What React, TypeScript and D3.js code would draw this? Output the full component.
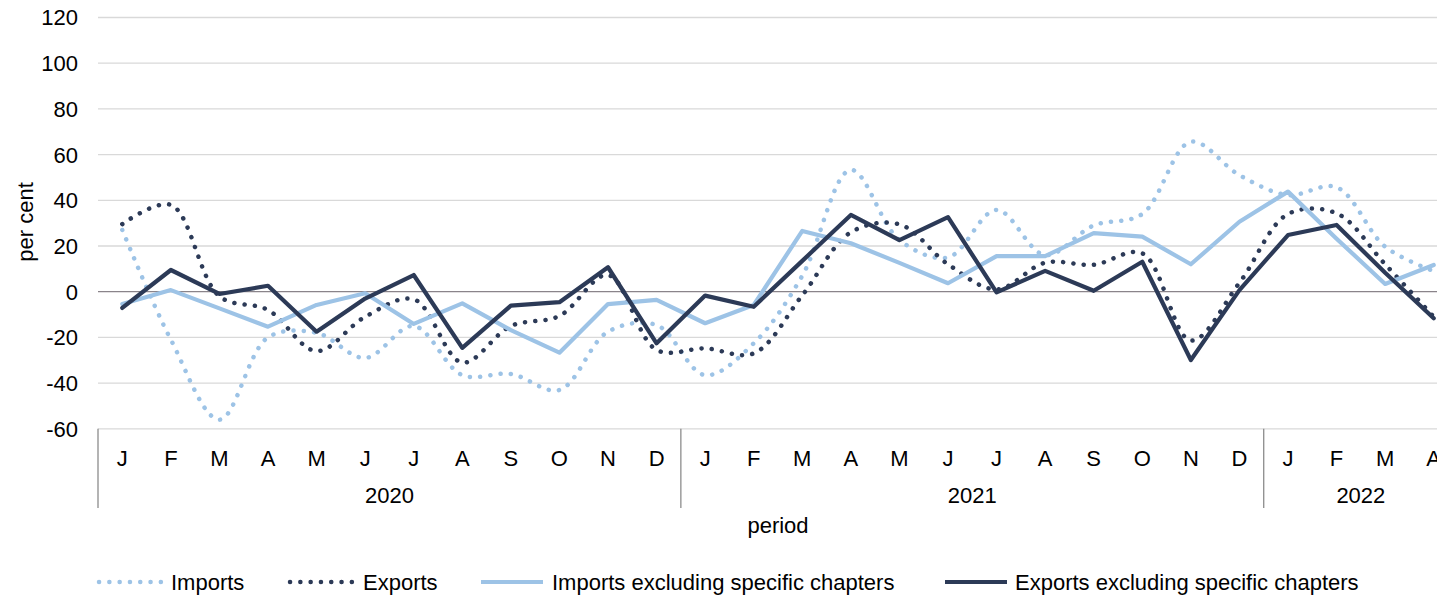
import React from 'react';
import * as d3 from 'd3';

// months shown on the category axis
const months = ['J', 'F', 'M', 'A', 'M', 'J', 'J', 'A', 'S', 'O', 'N', 'D',
  'J', 'F', 'M', 'A', 'M', 'J', 'J', 'A', 'S', 'O', 'N', 'D',
  'J', 'F', 'M', 'A'];
const years = [
  { label: '2020', start: 0, count: 12 },
  { label: '2021', start: 12, count: 12 },
  { label: '2022', start: 24, count: 4 },
];
const yTicks = [-60, -40, -20, 0, 20, 40, 60, 80, 100, 120];

const imports = [27, -21, -56, -20, -18, -29, -15, -36.5, -36, -43, -17.5, -14.6,
  -36.5, -22.6, 7, 53.3, 22.6, 15, 35.8, 16, 29, 34, 65.6, 51,
  42.3, 45.7, 19.7, 9];
const exports = [29.6, 38, -2, -8, -26, -11, -3.3, -31, -15, -10.6, 7.3, -25.5,
  -24.8, -27, -1.6, 26, 29.5, 12, 1, 12.7, 11.8, 16.8, -21.4, 3.9,
  34, 34.3, 12, -11];
const importsExcl = [-5.4, 0.7, -7.3, -15.3, -5.8, -0.7, -14.1, -5.1, -16.8, -26.7, -5.4, -3.6,
  -13.8, -5.8, 26.6, 21.2, 12.6, 3.7, 15.6, 15.6, 25.6, 24.1, 12, 30.6,
  43.8, 23.2, 3.4, 11.7];
const exportsExcl = [-7.1, 9.5, -1, 2.6, -17.5, -3, 7.3, -24.6, -6.1, -4.6, 10.7, -22.6,
  -1.7, -6.6, 13.5, 33.6, 22.6, 32.6, -0.3, 9.1, 0.4, 13.1, -29.9, 0.7,
  24.8, 29.2, 8.3, -11.6];

const LIGHT = '#9dc3e6';
const DARK = '#2c3a57';
const FONT = 'Arial, "Liberation Sans", sans-serif';
const FS = 22;

const series = [
  { name: 'Imports', values: imports, color: LIGHT, dotted: true },
  { name: 'Exports', values: exports, color: DARK, dotted: true },
  { name: 'Imports excluding specific chapters', values: importsExcl, color: LIGHT, dotted: false },
  { name: 'Exports excluding specific chapters', values: exportsExcl, color: DARK, dotted: false },
];

const legendPos = [
  { x: 99, tx: 171 },
  { x: 290, tx: 363 },
  { x: 481, tx: 552 },
  { x: 945, tx: 1015 },
];

export default function App() {
  const width = 1437;
  const height = 598;
  const left = 98;
  const right = 1458;
  const top = 17.5;
  const bottom = 428.8;

  const x = d3.scaleBand<number>()
    .domain(months.map((_, i) => i))
    .range([left, right])
    .padding(0);
  const cx = (i: number) => (x(i) as number) + x.bandwidth() / 2;

  const y = d3.scaleLinear().domain([-60, 120]).range([bottom, top]);

  const straight = d3.line<number>().x((_, i) => cx(i)).y(d => y(d));
  const smooth = d3.line<number>().x((_, i) => cx(i)).y(d => y(d))
    .curve(d3.curveCatmullRom.alpha(0.5));

  return (
    <svg width={width} height={height}
      style={{ position: 'absolute', left: 0, top: 0, background: '#fff' }}
      fontFamily={FONT}>
      {/* gridlines */}
      {yTicks.map(t => (
        <line key={t} x1={left} x2={right} y1={y(t)} y2={y(t)}
          stroke={t === 0 ? '#8a848a' : '#d9d9d9'} strokeWidth={1.3} />
      ))}
      {yTicks.map(t => (
        <text key={'l' + t} x={78} y={y(t)} dy="0.36em" textAnchor="end"
          fontSize={FS} fill="#000">{t}</text>
      ))}
      <text transform={`translate(33,222) rotate(-90)`} textAnchor="middle"
        fontSize={FS} fill="#000">per cent</text>

      {/* category axis */}
      {months.map((m, i) => (
        <text key={'m' + i} x={cx(i)} y={466} textAnchor="middle"
          fontSize={FS} fill="#000">{m}</text>
      ))}
      {years.map(yr => {
        const x0 = x(yr.start) as number;
        const x1 = x0 + x.bandwidth() * yr.count;
        return (
          <g key={yr.label}>
            <line x1={x0} x2={x0} y1={bottom} y2={508} stroke="#8c8c8c" strokeWidth={1.3} />
            <text x={(x0 + x1) / 2} y={503} textAnchor="middle" fontSize={FS} fill="#000">
              {yr.label}
            </text>
          </g>
        );
      })}
      <text x={(left + right) / 2} y={533} textAnchor="middle" fontSize={FS} fill="#000">period</text>

      {/* series */}
      {series.map(s => (
        <path key={s.name}
          d={(s.dotted ? smooth : straight)(s.values) as string}
          fill="none" stroke={s.color}
          strokeWidth={s.dotted ? 4.5 : 4.2}
          strokeLinecap="round" strokeLinejoin="round"
          strokeDasharray={s.dotted ? '0.1 10.2' : undefined} />
      ))}

      {/* legend */}
      {series.map((s, i) => (
        <g key={'lg' + s.name}>
          <line x1={legendPos[i].x} x2={legendPos[i].x + 62} y1={582} y2={582}
            stroke={s.color} strokeWidth={s.dotted ? 4.5 : 4.2}
            strokeLinecap={s.dotted ? 'round' : 'butt'}
            strokeDasharray={s.dotted ? '0.1 10.2' : undefined} />
          <text x={legendPos[i].tx} y={582} dy="0.36em" fontSize={FS} fill="#000">{s.name}</text>
        </g>
      ))}
    </svg>
  );
}
